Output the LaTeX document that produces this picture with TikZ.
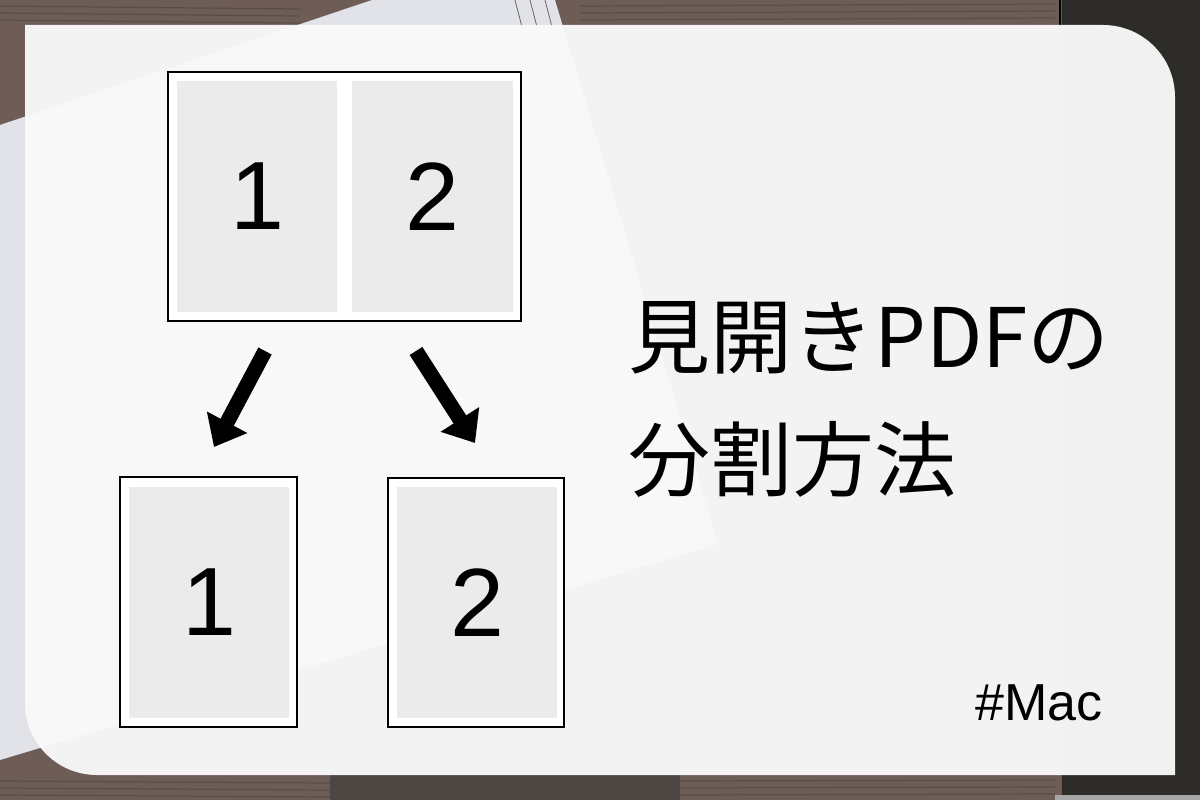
\documentclass[tikz,border=0pt]{standalone}
\usepackage{fontspec}
\setmainfont{Liberation Sans}
\newfontfamily\cjk{Noto Sans CJK JP}
\usetikzlibrary{arrows.meta}
\definecolor{woodA}{HTML}{6E5D56}
\definecolor{woodB}{HTML}{4C4541}
\definecolor{woodC}{HTML}{2D2B27}
\definecolor{bookcol}{HTML}{E2E3E8}
\definecolor{panelcol}{HTML}{F9F9F9}
\definecolor{pagegray}{HTML}{EBEBEB}
\tikzset{
  outerpage/.style={draw=black, line width=1.5pt, fill=white, inner sep=0pt, outer sep=0pt},
  innerpage/.style={fill=pagegray, inner sep=0pt, outer sep=0pt, font=\fontsize{97}{97}\selectfont},
  bigarrow/.style={line width=15pt, -{Triangle[width=44pt,length=28pt]}},
  grain/.style={draw=black, opacity=0.18, line width=1.2pt},
  pageline/.style={draw=black, opacity=0.55, line width=0.8pt},
  titletext/.style={anchor=base west, inner sep=0pt, font=\cjk\fontsize{82}{82}\selectfont}
}
\begin{document}
\begin{tikzpicture}[x=1pt,y=-1pt]
\useasboundingbox (0,0) rectangle (1200,800);
% wood background
\fill[woodA] (0,0) rectangle (1062,800);
\fill[woodB] (330,775) rectangle (680,800);
\fill[woodC] (1062,0) rectangle (1200,800);
\draw[black, line width=2pt] (1060,0) -- (1060,30);
\fill[gray!70] (1055,795) rectangle (1200,800);
\foreach \yy in {6,13,20} {\draw[grain] (0,\yy) -- (300,\yy+3); \draw[grain] (580,\yy) -- (1055,\yy-2);}
\foreach \yy in {781,788,795} {\draw[grain] (0,\yy) -- (330,\yy+2); \draw[grain] (680,\yy) -- (1055,\yy-1);}
% book behind
\fill[bookcol] (0,125) -- (372,0) -- (555,0) -- (718,544) -- (0,760) -- cycle;
\draw[pageline] (515,0) -- (522,27);
\draw[pageline] (530,0) -- (537,27);
\draw[pageline] (545,0) -- (552,27);
% translucent panel
\fill[panelcol, opacity=0.965] (25,25) -- (1103,25)
  .. controls (1142.8,25) and (1175,57.2) .. (1175,97)
  -- (1175,775) -- (97,775)
  .. controls (57.2,775) and (25,742.8) .. (25,703) -- cycle;
% spread
\node[outerpage, minimum width=353pt, minimum height=249pt] (spread) at (344.5,196.5) {};
\node[innerpage, minimum width=160pt, minimum height=231pt] (p1) at (257,196.5) {1};
\node[innerpage, minimum width=161pt, minimum height=231pt] (p2) at (432.5,196.5) {2};
% single pages
\node[outerpage, minimum width=177pt, minimum height=250pt] (s1) at (208.5,602) {};
\node[innerpage, minimum width=160pt, minimum height=231pt] (q1) at (209,602.5) {1};
\node[outerpage, minimum width=176pt, minimum height=249pt] (s2) at (476,602.5) {};
\node[innerpage, minimum width=160pt, minimum height=231pt] (q2) at (477,602.5) {2};
% arrows
\coordinate (a1s) at (265,351);
\coordinate (a1e) at (214,447);
\coordinate (a2s) at (416,351);
\coordinate (a2e) at (475,443);
\draw[bigarrow] (a1s) -- (a1e);
\draw[bigarrow] (a2s) -- (a2e);
% title
\node[titletext] (t1) at (628,367) {見開きPDFの};
\node[titletext] (t2) at (628,490) {分割方法};
\node[anchor=base east, inner sep=0pt, font=\fontsize{52}{52}\selectfont] (tag) at (1103,720) {\#Mac};
\end{tikzpicture}
\end{document}
